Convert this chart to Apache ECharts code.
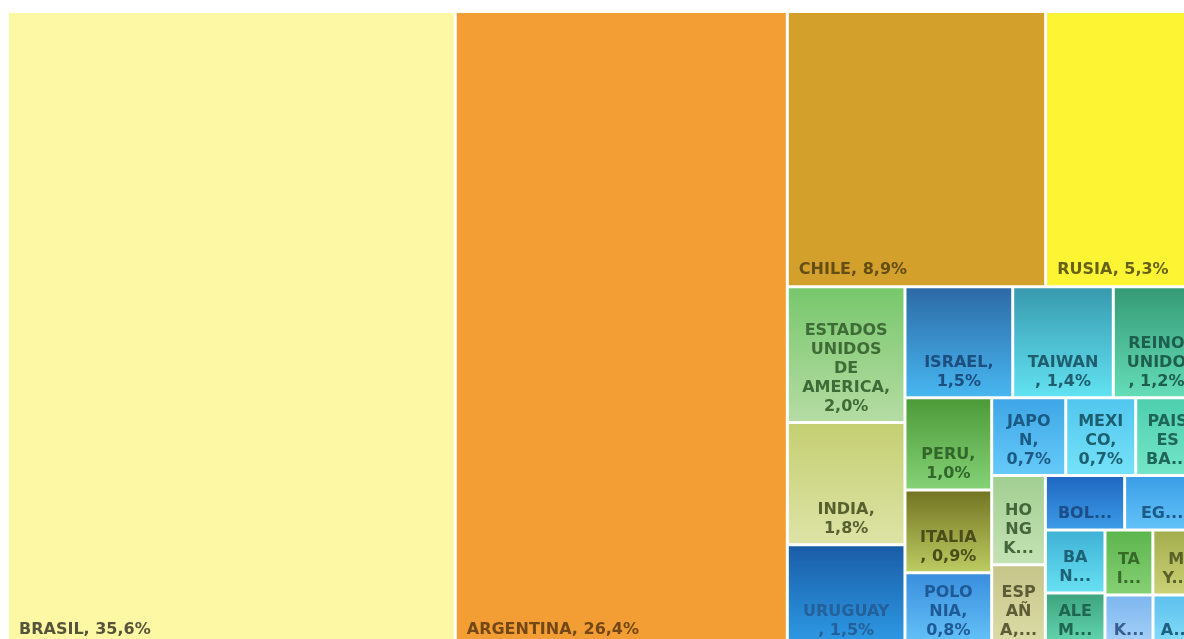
<!DOCTYPE html>
<html>
<head>
<meta charset="utf-8">
<script src="https://cdn.jsdelivr.net/npm/echarts@6/dist/echarts.min.js"></script>
<style>
html,body{margin:0;padding:0;background:#ffffff;overflow:hidden}
#c{width:1184px;height:639px}
</style>
</head>
<body>
<div id="c"></div>
<script>
// ---- data (already in descending order) ----
const names = ["BRASIL","ARGENTINA","CHILE","RUSIA","ESTADOS UNIDOS DE AMERICA","INDIA","URUGUAY","ISRAEL","TAIWAN","REINO UNIDO","PERU","ITALIA","POLONIA","JAPON","MEXICO","PAISES BAJOS","HONG KONG","ESPAÑA","BOLIVIA","EGIPTO","BANGLADESH","ALEMANIA","TAILANDIA","MYANMAR","KUWAIT","ARGELIA"];
const values = [35.6,26.4,8.9,5.3,2.0,1.8,1.5,1.5,1.4,1.2,1.0,0.9,0.8,0.72,0.68,0.62,0.6,0.55,0.54,0.51,0.47,0.40,0.39,0.38,0.31,0.30];
const labelText = [
  "BRASIL, 35,6%","ARGENTINA, 26,4%","CHILE, 8,9%","RUSIA, 5,3%",
  "ESTADOS\nUNIDOS\nDE\nAMERICA,\n2,0%","INDIA,\n1,8%","URUGUAY\n, 1,5%","ISRAEL,\n1,5%",
  "TAIWAN\n, 1,4%","REINO\nUNIDO\n, 1,2%","PERU,\n1,0%","ITALIA\n, 0,9%","POLO\nNIA,\n0,8%",
  "JAPO\nN,\n0,7%","MEXI\nCO,\n0,7%","PAIS\nES\nBA...","HO\nNG\nK...","ESP\nAÑ\nA,...",
  "BOL...","EG...","BA\nN...","ALE\nM...","TA\nI...","M\nY...","K...","A..."
];

// ---- styles ----
const topColors = ["#FDF8A3","#F29E34","#D3A12B","#FDF533","#78C76C","#C5CF72","#1A5CA6","#2C6AA6","#389AAE","#359A76","#4C9A38","#737522","#3A8EDE","#3EA6E6","#52C6EE","#4ECFAE","#A2CF92","#C6C68A","#2068C2","#3A9EE6","#40B2D6","#3EA480","#5CB64E","#A4AE4E","#7EB6EE","#5EC0EE"];
const bottomColors = ["#FDF8A3","#F29E34","#D3A12B","#FDF533","#B5DCA3","#DDE3A6","#2E9BE6","#48B6F0","#62E2F2","#64DDB6","#84D276","#BCCB62","#66C4F8","#66CAF8","#74E2F8","#74E6C8","#C4E2B4","#DCDCA8","#3C9AE6","#62C2F8","#66E0F2","#66D8B2","#86D074","#CAD176","#A6D2FA","#86DEF8"];
const textColors = ["#56543A","#744816","#654D16","#66621A","#3E6B36","#57602E","#24609A","#1C4E7E","#1E5E6E","#1E5E4C","#32662A","#4A4C1A","#1E5A96","#1C5A86","#1C6070","#1E6656","#44663A","#5C5C36","#1B4E88","#1C5A88","#1E6276","#1E6650","#386A2A","#5A6028","#3A5E8E","#1E6080"];
const leftLabelCount = 4;

const data = names.map((n, i) => ({
  name: n,
  value: values[i],
  itemStyle: {
    color: {
      type: 'linear', x: 0, y: 0, x2: 0, y2: 1,
      colorStops: [{offset: 0, color: topColors[i]}, {offset: 1, color: bottomColors[i]}]
    }
  },
  label: Object.assign({
    formatter: () => labelText[i],
    color: textColors[i]
  }, i < leftLabelCount
    ? {position: 'insideBottomLeft', align: 'left', padding: [5, 5, 6, 10]}
    : {position: 'insideBottom', align: 'center', padding: [5, 4, 5, 4]})
}));

const chart = echarts.init(document.getElementById('c'), null, {renderer: 'canvas'});
chart.setOption({
  animation: false,
  backgroundColor: '#ffffff',
  series: [{
    type: 'treemap',
    left: 9, top: 13, width: 1189, height: 632,
    squareRatio: 0.9,
    sort: null,
    roam: false,
    nodeClick: false,
    breadcrumb: {show: false},
    itemStyle: {gapWidth: 3, borderWidth: 0, borderColor: '#ffffff'},
    label: {
      show: true,
      fontFamily: 'DejaVu Sans',
      fontWeight: 'bold',
      fontSize: 16,
      lineHeight: 19,
      overflow: 'none',
      distance: 0
    },
    emphasis: {disabled: true},
    data: data
  }]
});
</script>
</body>
</html>
